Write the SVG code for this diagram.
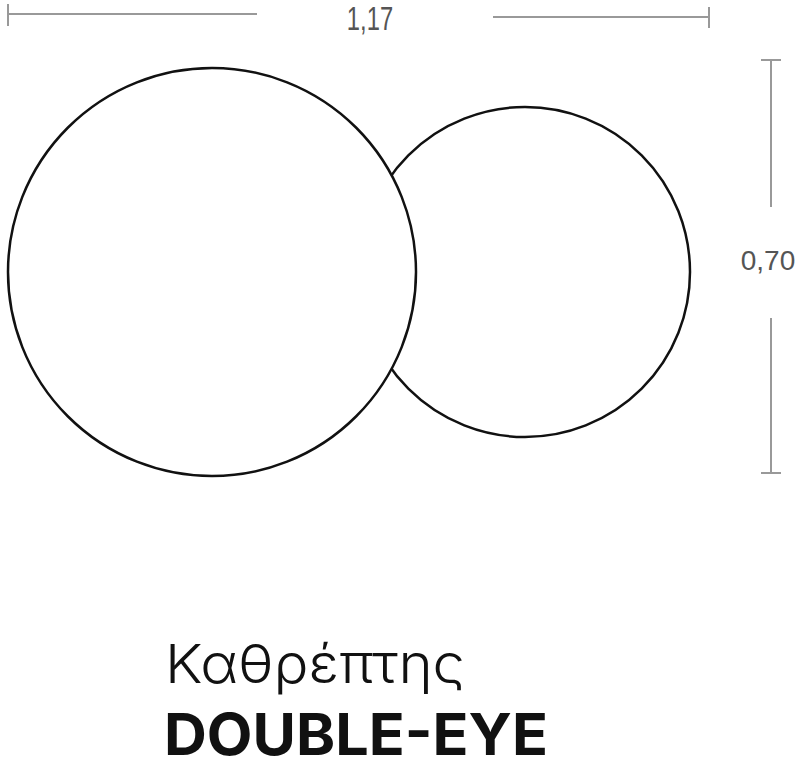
<svg xmlns="http://www.w3.org/2000/svg" width="800" height="759" viewBox="0 0 800 759">
<style>
.dim{stroke:#999;stroke-width:2;fill:none}
.dt{font-family:"Liberation Sans",Arial,sans-serif;fill:#555}
.c{fill:#fff;stroke:#111;stroke-width:2.5}
.tt{font-family:Inter,"Noto Sans",sans-serif;fill:#111}
</style>
<rect width="800" height="759" fill="#fff"/>
<g id="dim-width">
<path class="dim" d="M8 14H257M8 4V26M493 17H709M709 7V28"/>
<text class="dt" font-size="33" x="370" y="30" text-anchor="middle" transform="translate(370 0) scale(0.72 1) translate(-370 0)">1,17</text>
</g>
<g id="dim-height">
<path class="dim" d="M771 60V207M761 60H781M771 318V473M761 473H781"/>
<text class="dt" font-size="28" x="768" y="270" text-anchor="middle">0,70</text>
</g>
<g id="circle-small"><circle class="c" cx="525" cy="272" r="165"/></g>
<g id="circle-large"><circle class="c" cx="212" cy="272" r="204"/></g>
<g id="title">
<text class="tt" x="165" y="683" font-weight="300" font-size="54" textLength="300" lengthAdjust="spacingAndGlyphs">Καθρέπτης</text>
<text class="tt" x="164" y="755" font-weight="700" font-size="58" textLength="384" lengthAdjust="spacingAndGlyphs">DOUBLE-EYE</text>
</g>
</svg>
